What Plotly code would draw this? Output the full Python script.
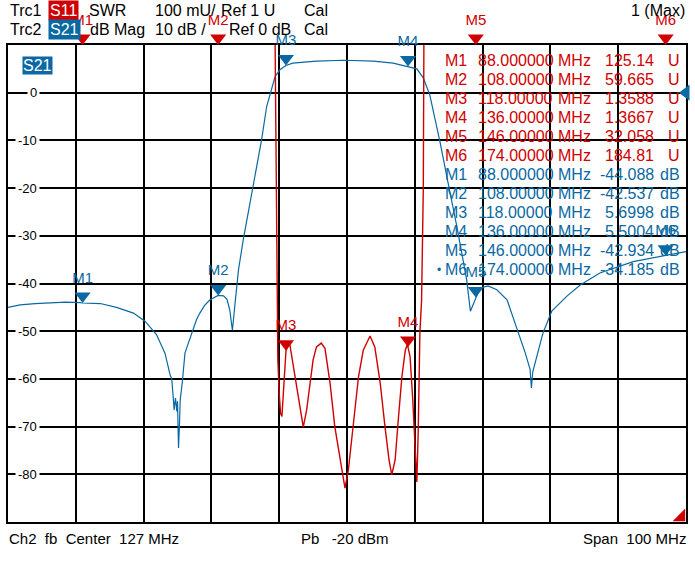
import plotly.graph_objects as go

FONT = "Liberation Sans, Arial, sans-serif"
RED = "#d00000"
BLUE = "#0a69a3"

# sweep: centre 127 MHz, span 100 MHz
f_start, f_stop = 77.0, 177.0

# Trc2  S21 dB Mag
s21_freq = [77.0, 78.8, 81.0, 83.2, 85.5, 87.6, 88.0, 90.6, 93.0, 95.5, 97.2, 98.9,
            100.15, 100.9, 101.15, 101.4, 101.5, 101.7, 101.9, 102.0, 102.1, 102.15,
            102.3, 102.4, 102.7, 103.1, 103.6, 104.1, 104.8, 105.3, 106.0, 106.8,
            108.0, 108.8, 109.3, 109.7, 110.1, 110.5, 110.8, 111.0, 111.7, 112.4,
            113.2, 114.4, 115.15, 115.9, 116.4, 117.1, 118.0, 119.0, 120.1, 122.5,
            126.5, 130.9, 133.8, 136.0, 137.3, 138.25, 139.2, 140.7, 141.2, 142.2,
            143.2, 143.9, 144.65, 145.2, 145.7, 146.0, 146.6, 147.8, 149.1, 150.6,
            152.0, 153.3, 154.0, 154.2, 154.4, 155.0, 155.9, 157.2, 159.4, 161.4,
            164.3, 169.2, 174.0, 177.0]
s21_db = [-45.0, -44.5, -44.2, -44.0, -43.9, -44.0, -44.09, -44.2, -45.0, -46.2, -47.9, -50.7,
          -54.6, -59.1, -60.0, -64.4, -66.5, -64.0, -66.8, -64.7, -70.0, -74.5,
          -69.2, -64.4, -60.8, -54.6, -52.5, -50.4, -47.6, -46.2, -44.6, -43.4,
          -42.5, -42.6, -43.3, -45.5, -49.8, -44.0, -40.0, -37.1, -30.8, -25.2,
          -18.9, -9.9, -2.9, 0.6, 3.4, 4.8, 5.7, 6.2, 6.35, 6.6,
          6.8, 6.6, 6.2, 5.5, 5.0, 3.1, -0.4, -10.2, -14.0, -21.0,
          -28.0, -33.6, -39.2, -45.8, -44.0, -42.9, -41.0, -40.5, -41.3, -43.4,
          -49.0, -54.6, -58.0, -61.9, -58.5, -55.3, -50.4, -45.8, -42.7, -40.3,
          -37.8, -35.4, -34.19, -33.3]

# Trc1  S11 SWR (far off scale outside the pass band)
s11_freq = [77.0, 88.0, 100.0, 108.0, 113.0, 115.5, 116.2, 116.4, 116.55, 116.7, 116.8,
            117.0, 117.2, 117.4, 117.7, 118.0, 118.5, 119.1, 119.8, 120.3, 120.55,
            121.05, 121.5, 122.0, 122.5, 123.2, 123.75, 124.5, 125.2, 126.0, 126.7,
            127.2, 127.9, 128.7, 129.4, 130.4, 131.1, 131.9, 132.6, 133.2, 133.6,
            134.1, 134.6, 135.1, 135.6, 135.9, 136.0, 136.3, 136.7, 137.0, 137.3,
            137.5, 137.75, 138.0, 138.25, 138.4, 139.0, 141.0, 146.0, 160.0, 174.0, 177.0]
s11_swr = [150.0, 125.14, 90.0, 59.665, 20.0, 5.0, 2.3, 2.0, 1.69, 1.43, 1.34,
           1.27, 1.228, 1.221, 1.29, 1.3588, 1.378, 1.326, 1.256, 1.214, 1.199,
           1.235, 1.291, 1.34, 1.367, 1.375, 1.364, 1.291, 1.2, 1.13, 1.071,
           1.109, 1.2, 1.305, 1.36, 1.39, 1.367, 1.291, 1.2, 1.13, 1.099,
           1.13, 1.221, 1.305, 1.36, 1.372, 1.3667, 1.347, 1.256, 1.158, 1.084,
           1.187, 1.396, 1.465, 1.696, 2.2, 4.0, 12.0, 32.058, 100.0, 184.81, 190.0]

# markers
mk_names = ["M1", "M2", "M3", "M4", "M5", "M6"]
mk_freq = [88.0, 108.0, 118.0, 136.0, 146.0, 174.0]
mk_freq_text = ["88.000000", "108.00000", "118.00000", "136.00000", "146.00000", "174.00000"]
mk_swr = [125.14, 59.665, 1.3588, 1.3667, 32.058, 184.81]
mk_swr_text = ["125.14", "59.665", "1.3588", "1.3667", "32.058", "184.81"]
mk_db = [-44.088, -42.537, 5.6998, 5.5004, -42.934, -34.185]
mk_db_text = ["-44.088", "-42.537", "5.6998", "5.5004", "-42.934", "-34.185"]

db_ticks = [0, -10, -20, -30, -40, -50, -60, -70, -80]

# scales: S21 10 dB/div (top +10 dB), S11 100 mU/div with Ref 1 U at the bottom line
DB_TOP, DB_BOT = 10.0, -90.0
SWR_BOT, SWR_TOP = 1.0, 2.0

# screen geometry (pixels)
W, H = 695, 579
L, R, T, B = 8, 686, 45, 522
PX_PER_DB = (B - T) / (DB_TOP - DB_BOT)
PX_PER_MHZ = (R - L) / (f_stop - f_start)
TIP = 7  # half height of the marker triangle

# overlay axis spanning the whole page, same dB scale, so marker symbols may sit above the grid
DB3_TOP = DB_TOP + T / PX_PER_DB
DB3_BOT = DB_BOT - (H - B) / PX_PER_DB


def swr_on_db_grid(v):
    # position of an SWR value on the shared grid, clamped to the top edge
    v = min(v, SWR_TOP)
    return DB_BOT + (v - SWR_BOT) / (SWR_TOP - SWR_BOT) * (DB_TOP - DB_BOT)


def pxp(x):
    return x / W


def pyp(y):
    return (H - y) / H


def txt(x, y, s, color="black", anchor="left", size=16, **kw):
    return dict(xref="paper", yref="paper", x=pxp(x), y=pyp(y), text=s, showarrow=False,
                xanchor=anchor, yanchor="middle",
                font=dict(family=FONT, size=size, color=color), **kw)


fig = go.Figure()

fig.add_trace(go.Scatter(x=s21_freq, y=s21_db, mode="lines", xaxis="x", yaxis="y",
                         line=dict(color=BLUE, width=1.2), hoverinfo="skip"))
fig.add_trace(go.Scatter(x=s11_freq, y=s11_swr, mode="lines", xaxis="x", yaxis="y2",
                         line=dict(color=RED, width=1.4), hoverinfo="skip"))

# S21 markers on the trace
fig.add_trace(go.Scatter(
    x=mk_freq, y=[v + TIP / PX_PER_DB for v in mk_db], xaxis="x2", yaxis="y3",
    mode="markers+text", text=mk_names, textposition="top center",
    textfont=dict(family=FONT, size=15, color=BLUE),
    marker=dict(symbol="triangle-down", size=14, color=BLUE),
    cliponaxis=False, hoverinfo="skip"))

# S11 markers, clamped at the top edge when off scale
fig.add_trace(go.Scatter(
    x=mk_freq, y=[swr_on_db_grid(v) + TIP / PX_PER_DB for v in mk_swr], xaxis="x2", yaxis="y3",
    mode="markers+text", text=mk_names, textposition="top center",
    textfont=dict(family=FONT, size=15, color=RED),
    marker=dict(symbol="triangle-down", size=14, color=RED),
    cliponaxis=False, hoverinfo="skip"))

# reference position arrows
fig.add_trace(go.Scatter(x=[f_stop], y=[0], xaxis="x2", yaxis="y3", mode="markers",
                         marker=dict(symbol="triangle-left", size=14, color=BLUE),
                         cliponaxis=False, hoverinfo="skip"))
fig.add_trace(go.Scatter(x=[f_stop - 5 / PX_PER_MHZ],
                         y=[swr_on_db_grid(SWR_BOT) + 5 / PX_PER_DB], xaxis="x2", yaxis="y3",
                         mode="markers",
                         marker=dict(symbol="triangle-se", size=14, color=RED,
                                     line=dict(width=0)),
                         cliponaxis=False, hoverinfo="skip"))

ann = []

# header
row1, row2 = 11, 30
ann += [txt(8, row1, "Trc1"), txt(87, row1, "SWR"), txt(153, row1, "100 mU/"),
        txt(219, row1, "Ref 1 U"), txt(302, row1, "Cal"),
        txt(48, row1 - 1, "S11", color="white", bgcolor=RED, borderpad=1),
        txt(687, row1, "1 (Max)", anchor="right")]
ann += [txt(8, row2, "Trc2"), txt(88, row2, "dB Mag"), txt(153, row2, "10 dB /"),
        txt(227, row2, "Ref 0 dB"), txt(302, row2, "Cal"),
        txt(48, row2, "S21", color="white", bgcolor=BLUE, borderpad=1)]

# trace label inside the grid
ann.append(txt(22, 66, "S21", color="white", bgcolor=BLUE, borderpad=0))

# dB scale labels drawn on the grid
for v in db_ticks:
    ann.append(dict(xref="paper", yref="y", x=pxp(40), y=v, text=str(v), showarrow=False,
                    xanchor="right", yanchor="middle", bgcolor="white", borderpad=2,
                    font=dict(family=FONT, size=13, color="black")))

# marker table
for i, name in enumerate(mk_names):
    yr = 60.5 + 19 * i
    yb = 60.5 + 19 * (i + 6)
    ann += [txt(443, yr, name, RED), txt(476, yr, mk_freq_text[i], RED),
            txt(556, yr, "MHz", RED), txt(656, yr, mk_swr_text[i], RED, "right"),
            txt(682, yr, "U", RED, "right")]
    ann += [txt(443, yb, name, BLUE), txt(476, yb, mk_freq_text[i], BLUE),
            txt(556, yb, "MHz", BLUE), txt(656, yb, mk_db_text[i], BLUE, "right"),
            txt(682, yb, "dB", BLUE, "right")]
ann.append(txt(435, 60.5 + 19 * 11, "•", BLUE, size=12))

# footer
ann += [txt(7, 538, "Ch2  fb  Center  127 MHz", size=15),
        txt(299, 538, "Pb   -20 dBm", size=15),
        txt(688, 538, "Span  100 MHz", anchor="right", size=15)]

axis_common = dict(showline=True, mirror=True, linecolor="black", linewidth=1.5,
                   showgrid=True, gridcolor="black", gridwidth=1.5,
                   zeroline=False, ticks="", showticklabels=False, fixedrange=True)
hidden = dict(visible=False, showgrid=False, zeroline=False, fixedrange=True)

x_dom = [pxp(L), pxp(R)]
y_dom = [pyp(B), pyp(T)]

fig.update_layout(
    width=W, height=H, autosize=False,
    margin=dict(l=0, r=0, t=0, b=0),
    paper_bgcolor="white", plot_bgcolor="rgba(0,0,0,0)",
    showlegend=False,
    xaxis=dict(range=[f_start, f_stop], dtick=10, tick0=f_start, domain=x_dom,
               anchor="y", **axis_common),
    yaxis=dict(range=[DB_BOT, DB_TOP], dtick=10, tick0=DB_BOT, domain=y_dom,
               anchor="x", **axis_common),
    yaxis2=dict(range=[SWR_BOT, SWR_TOP], overlaying="y", anchor="x", side="right",
                **hidden),
    xaxis2=dict(range=[f_start, f_stop], domain=x_dom, anchor="y3", **hidden),
    yaxis3=dict(range=[DB3_BOT, DB3_TOP], domain=[0, 1], anchor="x2", **hidden),
    annotations=ann,
)

# drop the page's default body margin so the figure sits at the window origin
fig.write_html("out.html", config={"displayModeBar": False},
               post_script="document.body.style.margin='0';document.body.style.overflow='hidden';")
